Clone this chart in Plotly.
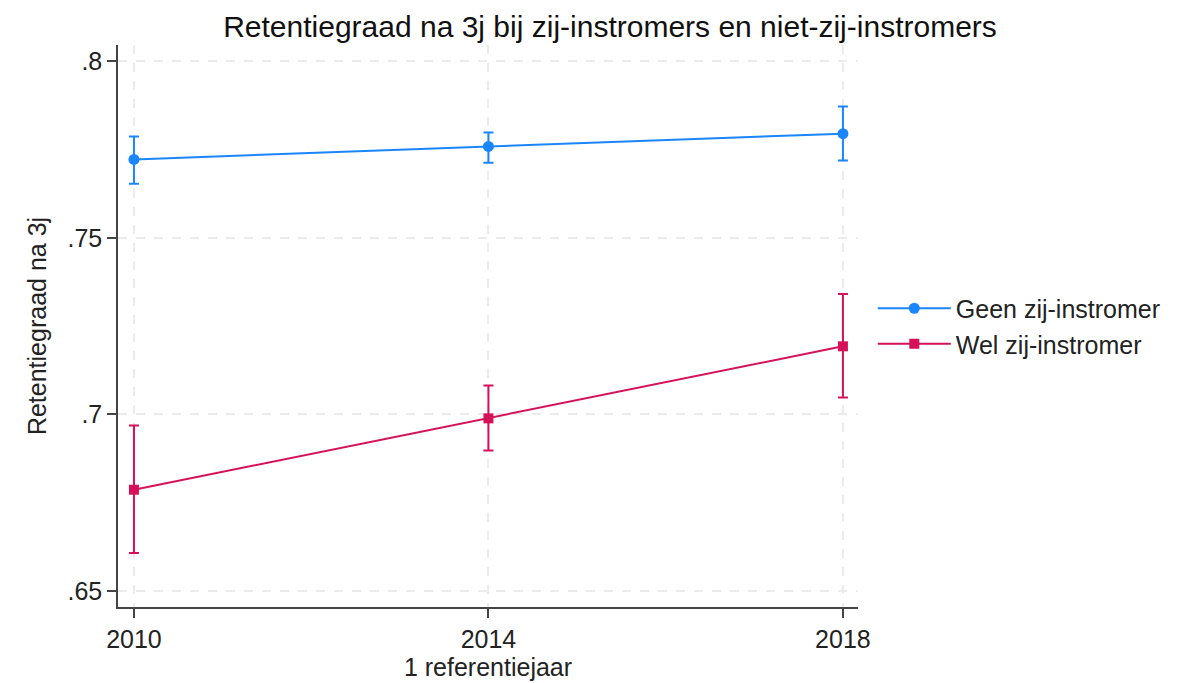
import plotly.graph_objects as go

years = [2010, 2014, 2018]
geen = [0.7722, 0.7759, 0.7795]
geen_hi = [0.7787, 0.7798, 0.7872]
geen_lo = [0.7653, 0.7713, 0.7719]
wel = [0.6787, 0.6989, 0.7193]
wel_hi = [0.6969, 0.7082, 0.7341]
wel_lo = [0.6608, 0.6898, 0.7048]
yticks = [0.65, 0.7, 0.75, 0.8]
ytick_text = [".65", ".7", ".75", ".8"]

BLUE = "#1A85FF"
RED = "#D41159"

def trace(name, y, hi, lo, color, symbol):
    return go.Scatter(
        x=years, y=y, name=name, mode="lines+markers",
        line=dict(color=color, width=2),
        marker=dict(color=color, size=11 if symbol == "circle" else 10, symbol=symbol),
        error_y=dict(type="data", symmetric=False,
                     array=[h - v for h, v in zip(hi, y)],
                     arrayminus=[v - l for v, l in zip(y, lo)],
                     color=color, thickness=2, width=5),
    )

fig = go.Figure()
fig.add_trace(trace("Geen zij-instromer", geen, geen_hi, geen_lo, BLUE, "circle"))
fig.add_trace(trace("Wel zij-instromer", wel, wel_hi, wel_lo, RED, "square"))

fig.update_layout(
    width=1192, height=683,
    paper_bgcolor="white", plot_bgcolor="white",
    font=dict(family="Liberation Sans, Arial, sans-serif", size=25, color="#222222"),
    margin=dict(l=110, r=342, t=37, b=84),
    title=dict(text="Retentiegraad na 3j bij zij-instromers en niet-zij-instromers",
               x=602 / 1192, xanchor="center", y=1 - 8 / 683, yanchor="top",
               font=dict(size=30, color="#111111")),
    legend=dict(x=1.02, xanchor="left", y=0.5, yanchor="middle",
                font=dict(size=25), bgcolor="rgba(0,0,0,0)", tracegroupgap=4,
                itemwidth=73),
    showlegend=True,
)
fig.update_xaxes(
    range=[2009.82, 2018.17], tickvals=years, ticktext=[str(y) for y in years],
    showline=True, linecolor="#444444", linewidth=1.5,
    ticks="outside", ticklen=9, tickwidth=1.5, tickcolor="#444444",
    showgrid=True, gridcolor="#ebebeb", gridwidth=1.5, griddash="dash",
    zeroline=False, automargin=False,
    title=dict(text="1 referentiejaar", font=dict(size=25), standoff=4),
)
fig.update_yaxes(
    range=[0.6455, 0.8046], tickvals=yticks, ticktext=ytick_text,
    showline=True, linecolor="#444444", linewidth=1.5,
    ticks="outside", ticklen=9, tickwidth=1.5, tickcolor="#444444",
    showgrid=True, gridcolor="#ebebeb", gridwidth=1.5, griddash="dash",
    zeroline=False, automargin=False,
    title=dict(text="Retentiegraad na 3j", font=dict(size=25), standoff=14),
)

fig.write_html("out.html")
